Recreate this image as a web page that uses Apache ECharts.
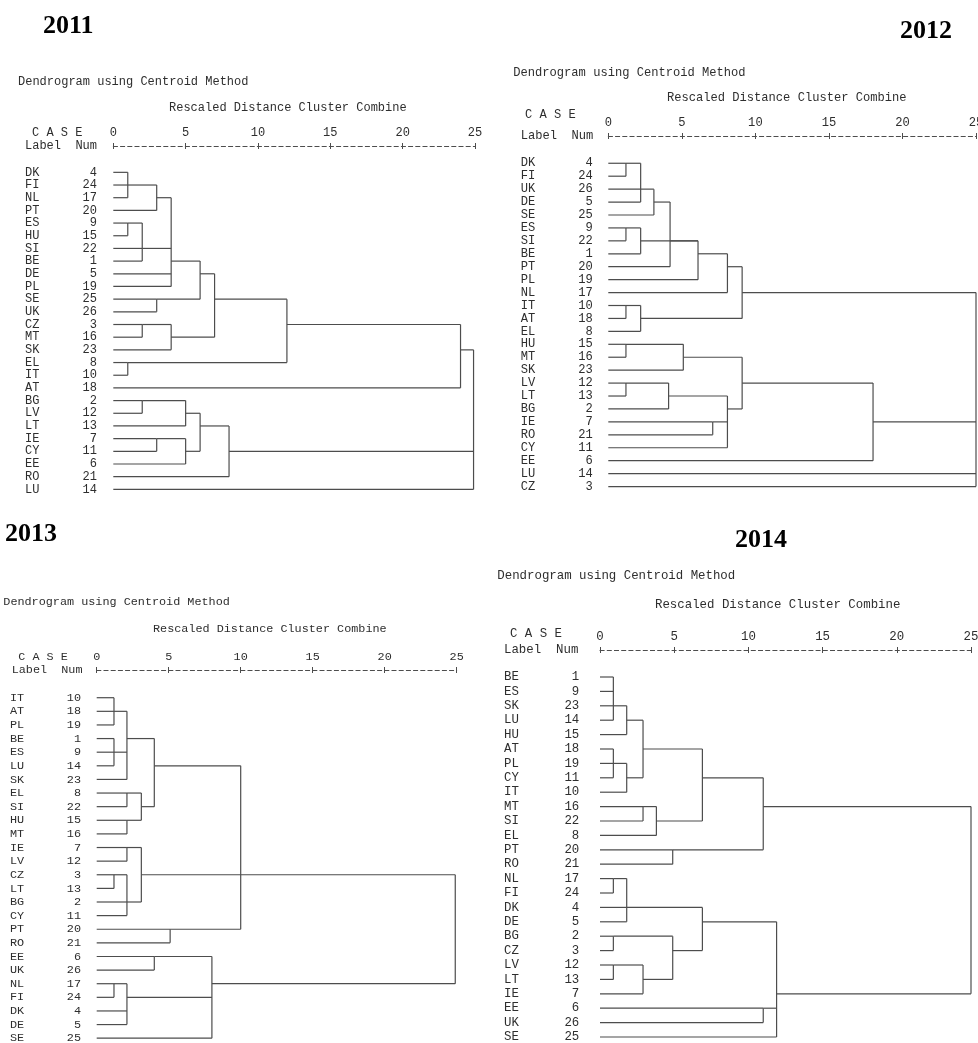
<!DOCTYPE html>
<html>
<head>
<meta charset="utf-8">
<script src="https://cdn.jsdelivr.net/npm/echarts@6/dist/echarts.min.js"></script>
<style>
  html, body { margin: 0; padding: 0; background: #fff; }
  #chart { width: 978px; height: 1043px; }
</style>
</head>
<body>
<div id="chart"></div>
<script>
// Cases (label + case number) in dendrogram order, and the merge steps of each year.
// A merge step is [rescaled distance, row the joined cluster continues on, ...member ids];
// ids 0..25 are case rows, id 26 + k is merge step k.
const labels2011 = ['DK','FI','NL','PT','ES','HU','SI','BE','DE','PL','SE','UK','CZ','MT','SK','EL','IT','AT','BG','LV','LT','IE','CY','EE','RO','LU'];
const nums2011   = [4,24,17,20,9,15,22,1,5,19,25,26,3,16,23,8,10,18,2,12,13,7,11,6,21,14];
const merges2011 = [
  [1.0, 1, 0, 1, 2],
  [3.0, 2, 26, 3],
  [1.0, 4, 4, 5],
  [2.0, 6, 28, 6, 7],
  [4.0, 7, 27, 29, 8, 9],
  [3.0, 10, 10, 11],
  [6.0, 8, 30, 31],
  [2.0, 12, 12, 13],
  [4.0, 13, 33, 14],
  [7.0, 10, 32, 34],
  [1.0, 15, 15, 16],
  [12.0, 12, 35, 36],
  [24.0, 14, 37, 17],
  [2.0, 18, 18, 19],
  [5.0, 19, 39, 20],
  [3.0, 21, 21, 22],
  [5.0, 22, 41, 23],
  [6.0, 20, 40, 42],
  [8.0, 22, 43, 24],
  [24.9, null, 38, 44, 25]
];

const labels2012 = ['DK','FI','UK','DE','SE','ES','SI','BE','PT','PL','NL','IT','AT','EL','HU','MT','SK','LV','LT','BG','IE','RO','CY','EE','LU','CZ'];
const nums2012   = [4,24,26,5,25,9,22,1,20,19,17,10,18,8,15,16,23,12,13,2,7,21,11,6,14,3];
const merges2012 = [
  [1.2, 0, 0, 1],
  [2.2, 2, 26, 2, 3],
  [3.1, 3, 27, 4],
  [1.2, 5, 5, 6],
  [2.2, 6, 29, 7],
  [4.2, 6, 28, 8],
  [6.1, 7, 31, 30, 9],
  [8.1, 8, 32, 10],
  [1.2, 11, 11, 12],
  [2.2, 12, 34, 13],
  [9.1, 10, 33, 35],
  [1.2, 14, 14, 15],
  [5.1, 15, 37, 16],
  [1.2, 17, 17, 18],
  [4.1, 18, 39, 19],
  [7.1, 20, 20, 21],
  [8.1, 19, 40, 41, 22],
  [9.1, 17, 38, 42],
  [18.0, 20, 43, 23],
  [25.0, null, 36, 44, 24, 25]
];

const labels2013 = ['IT','AT','PL','BE','ES','LU','SK','EL','SI','HU','MT','IE','LV','CZ','LT','BG','CY','PT','RO','EE','UK','NL','FI','DK','DE','SE'];
const nums2013   = [10,18,19,1,9,14,23,8,22,15,16,7,12,3,13,2,11,20,21,6,26,17,24,4,5,25];
const merges2013 = [
  [1.2, 1, 0, 1, 2],
  [1.2, 4, 3, 4, 5],
  [2.1, 3, 26, 27, 6],
  [2.1, 7, 7, 8],
  [2.1, 9, 9, 10],
  [3.1, 8, 29, 30],
  [4.0, 5, 28, 31],
  [2.1, 11, 11, 12],
  [1.2, 13, 13, 14],
  [2.1, 15, 34, 15, 16],
  [3.1, 13, 33, 35],
  [5.1, 17, 17, 18],
  [10.0, 13, 32, 36, 37],
  [4.0, 19, 19, 20],
  [1.2, 21, 21, 22],
  [2.1, 22, 40, 23, 24],
  [8.0, 21, 39, 41, 25],
  [24.9, null, 38, 42]
];

const labels2014 = ['BE','ES','SK','LU','HU','AT','PL','CY','IT','MT','SI','EL','PT','RO','NL','FI','DK','DE','BG','CZ','LV','LT','IE','EE','UK','SE'];
const nums2014   = [1,9,23,14,15,18,19,11,10,16,22,8,20,21,17,24,4,5,2,3,12,13,7,6,26,25];
const merges2014 = [
  [0.9, 2, 0, 1, 2, 3],
  [1.8, 3, 26, 4],
  [0.9, 6, 5, 6, 7],
  [1.8, 7, 28, 8],
  [2.9, 5, 27, 29],
  [2.9, 9, 9, 10],
  [3.8, 10, 31, 11],
  [6.9, 7, 30, 32],
  [4.9, 12, 12, 13],
  [11.0, 9, 33, 34],
  [0.9, 14, 14, 15],
  [1.8, 16, 36, 16, 17],
  [0.9, 18, 18, 19],
  [0.9, 20, 20, 21],
  [2.9, 21, 39, 22],
  [4.9, 19, 38, 40],
  [6.9, 17, 37, 41],
  [11.0, 23, 23, 24],
  [11.9, 22, 42, 43, 25],
  [25.0, null, 35, 44]
];

const distanceTicks = [0, 5, 10, 15, 20, 25];

// Panel layout: grid box, axis offset, label column, header text anchors.
const panels = [
  { year: '2011', labels: labels2011, nums: nums2011, merges: merges2011, fs: 12,
    grid: { left: 113.3, top: 166, width: 361.7, height: 329.7 }, axisOffset: 20,
    labelMargin: 16.3, labelWidth: 72,
    yearPos: [43, 26], dendPos: [18, 82], rescPos: [169, 108], casePos: [32, 133], headPos: [25, 146] },
  { year: '2012', labels: labels2012, nums: nums2012, merges: merges2012, fs: 12.1,
    grid: { left: 608.3, top: 156.8, width: 367.7, height: 336.2 }, axisOffset: 20.8,
    labelMargin: 15.6, labelWidth: 72,
    yearPos: [900, 31], dendPos: [513.3, 72.7], rescPos: [667, 97.7], casePos: [525, 114.3], headPos: [520.7, 136] },
  { year: '2013', labels: labels2013, nums: nums2013, merges: merges2013, fs: 11.8,
    grid: { left: 96.7, top: 690.9, width: 360, height: 354.1 }, axisOffset: 20.9,
    labelMargin: 15.7, labelWidth: 71,
    yearPos: [5, 534], dendPos: [3.3, 602.3], rescPos: [153, 629.3], casePos: [18.3, 656.7], headPos: [11.7, 670] },
  { year: '2014', labels: labels2014, nums: nums2014, merges: merges2014, fs: 12.4,
    grid: { left: 600, top: 669.8, width: 371, height: 374.4 }, axisOffset: 19.8,
    labelMargin: 20.7, labelWidth: 75.3,
    yearPos: [735, 540], dendPos: [497.3, 576], rescPos: [655, 604.5], casePos: [510, 634], headPos: [504, 650] }
];

const MONO = '"Liberation Mono", "DejaVu Sans Mono", monospace';
const TEXT = '#2e2e2e';
const LINE = '#4d4d4d';

// Turn merge steps into segments [x1, row1, x2, row2] on the distance/case axes.
function linkSegments(n, merges) {
  const height = [], row = [], segs = [];
  for (let i = 0; i < n; i++) { height[i] = 0; row[i] = i; }
  merges.forEach(function (m, k) {
    const d = m[0], out = m[1], kids = m.slice(2);
    const rows = kids.map(function (c) { return row[c]; });
    kids.forEach(function (c) { segs.push([height[c], row[c], d, row[c]]); });
    segs.push([d, Math.min.apply(null, rows), d, Math.max.apply(null, rows)]);
    height[n + k] = d;
    row[n + k] = out;
  });
  return segs;
}

const grids = [], xAxes = [], yAxes = [], series = [], graphics = [];

function headText(text, pos, size, opts) {
  graphics.push({
    type: 'text', x: pos[0], y: pos[1], silent: true,
    style: Object.assign({
      text: text, fill: TEXT, fontFamily: MONO, fontSize: size,
      verticalAlign: 'middle', align: 'left'
    }, opts || {})
  });
}

panels.forEach(function (p, i) {
  grids.push(Object.assign({ outerBoundsMode: 'none', containLabel: false }, p.grid));
  const base = {
    type: 'value', gridIndex: i, min: 0, max: 25, interval: 5,
    position: 'top', offset: p.axisOffset, splitLine: { show: false }
  };
  xAxes.push(Object.assign({}, base, {
    axisLine: { show: true, lineStyle: { color: LINE, width: 1, type: [4.2, 3] } },
    axisTick: { show: true, length: 3, lineStyle: { color: LINE, width: 1 } },
    axisLabel: { show: true, margin: 7, color: TEXT, fontFamily: MONO, fontSize: p.fs,
                 hideOverlap: false,
                 formatter: function (v) { return distanceTicks.indexOf(v) >= 0 ? String(v) : ''; } }
  }));
  xAxes.push(Object.assign({}, base, {
    axisLine: { show: false },
    axisTick: { show: true, inside: true, length: 3, lineStyle: { color: LINE, width: 1 } },
    axisLabel: { show: false }
  }));
  const nums = p.nums;
  yAxes.push({
    type: 'category', gridIndex: i, data: p.labels, inverse: true,
    axisLine: { show: false }, axisTick: { show: false }, splitLine: { show: false },
    axisLabel: {
      show: true, interval: 0, margin: p.labelMargin,
      formatter: function (v, idx) { return '{a|' + v + '}{b|' + nums[idx] + '}'; },
      rich: {
        a: { width: p.labelWidth - 24, align: 'left', color: TEXT, fontFamily: MONO, fontSize: p.fs },
        b: { width: 24, align: 'right', color: TEXT, fontFamily: MONO, fontSize: p.fs }
      }
    }
  });
  series.push({
    type: 'custom', name: p.year, xAxisIndex: i * 2, yAxisIndex: i,
    data: linkSegments(p.labels.length, p.merges),
    encode: { x: [0, 2], y: [1, 3] },
    silent: true, clip: false,
    renderItem: function (params, api) {
      const a = api.coord([api.value(0), api.value(1)]);
      const b = api.coord([api.value(2), api.value(3)]);
      return {
        type: 'line',
        shape: { x1: a[0], y1: a[1], x2: b[0], y2: b[1] },
        style: { stroke: LINE, lineWidth: 1.2 }
      };
    }
  });
  headText(p.year, p.yearPos, 26, { fontFamily: '"Liberation Serif", "DejaVu Serif", serif', fontWeight: 'bold', fill: '#000' });
  headText('Dendrogram using Centroid Method', p.dendPos, p.fs);
  headText('Rescaled Distance Cluster Combine', p.rescPos, p.fs);
  headText('C A S E', p.casePos, p.fs);
  headText('Label  Num', p.headPos, p.fs);
});

const chart = echarts.init(document.getElementById('chart'), null, { renderer: 'canvas' });
chart.setOption({
  animation: false,
  backgroundColor: '#ffffff',
  grid: grids,
  xAxis: xAxes,
  yAxis: yAxes,
  series: series,
  graphic: graphics
});
</script>
</body>
</html>
